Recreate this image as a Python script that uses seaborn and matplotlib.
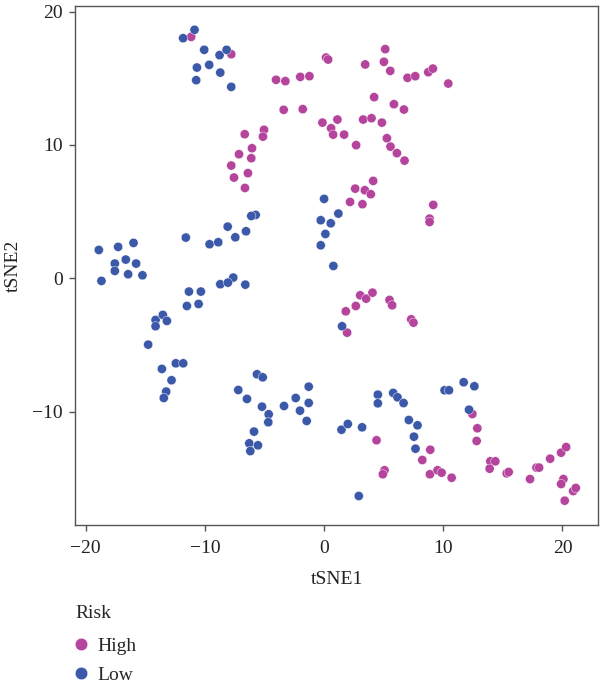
import numpy as np
import pandas as pd
import seaborn as sns
import matplotlib.pyplot as plt

# t-SNE coordinates
high_x = [-11.15, -7.79, -4.03, -3.25, -3.39, -2.0, -1.23, -1.79,
          -6.66, -5.04, -5.13, -7.14, -6.05, -6.11, -7.79, -6.39, -7.56, -6.64,
          0.17, 0.34, 5.13, 5.02, 5.55, 3.45, 7.0, 7.65, 8.74, 9.13, 10.42,
          4.2, 5.86, 6.7, -0.14, 1.12, 0.59, 0.76, 1.68, 3.28, 3.98, 4.85,
          2.69, 5.27, 5.57, 6.11, 6.75, 4.12, 2.61, 3.42, 3.92, 2.18, 3.22,
          9.16, 8.85, 8.85,
          3.03, 3.53, 4.06, 2.66, 1.82, 5.49, 5.71, 7.31, 7.5, 1.93,
          12.44, 12.86, 12.8, 4.4, 5.07, 4.93, 8.91, 8.24, 8.88, 9.52, 9.86, 10.7,
          13.95, 14.37, 13.89, 15.32, 15.49, 17.28, 17.82, 18.04, 18.97, 19.89,
          20.31, 20.08, 19.89, 20.19, 20.9, 21.12]
high_y = [18.1, 16.8, 14.88, 14.78, 12.63, 15.1, 15.15, 12.68,
          10.8, 11.13, 10.62, 9.3, 9.75, 9.0, 8.45, 7.88, 7.55, 6.77,
          16.55, 16.4, 17.18, 16.23, 15.55, 16.03, 15.03, 15.15, 15.45, 15.72, 14.6,
          13.58, 13.05, 12.65, 11.67, 11.9, 11.25, 10.77, 10.77, 11.9, 12.0, 11.67,
          9.98, 10.5, 9.87, 9.38, 8.82, 7.3, 6.72, 6.6, 6.3, 5.72, 5.55,
          5.5, 4.47, 4.22,
          -1.28, -1.53, -1.08, -2.08, -2.48, -1.63, -2.03, -3.08, -3.33, -4.08,
          -10.18, -11.25, -12.2, -12.15, -14.4, -14.7, -12.86, -13.63, -14.7, -14.4, -14.58, -14.96,
          -13.73, -13.73, -14.28, -14.63, -14.53, -15.06, -14.2, -14.2, -13.53, -13.08,
          -12.66, -15.06, -15.43, -16.68, -15.96, -15.73]

low_x = [-11.83, -10.87, -10.06, -10.67, -10.73, -9.64, -8.77, -8.18, -8.71, -7.79,
         -5.74, -6.11, -8.09, -7.45, -6.55, -11.6, -9.61, -8.88,
         -18.9, -17.28, -15.99, -17.56, -16.64, -15.77, -17.56, -16.44, -15.24, -18.68,
         -7.62, -8.71, -8.07, -6.61, -11.34, -10.34, -11.51, -10.53,
         -14.14, -13.53, -13.19, -14.14, -14.76, -13.61, -12.44, -11.82, -12.8, -13.25, -13.45,
         -5.63, -5.15, -7.2, -6.47, -5.21, -4.65, -4.68, -5.88, -6.28, -5.55, -6.19,
         -3.36, -2.38, -2.02, -1.29, -1.29, -1.46,
         0.0, 1.2, -0.28, 0.56, 0.11, -0.28, 0.78, 1.51,
         4.51, 4.51, 5.8, 6.16, 6.67, 7.11, 7.84, 7.54, 7.67, 1.46, 1.99, 3.19, 2.91,
         10.11, 10.48, 11.71, 12.61, 12.16]
low_y = [18.0, 18.63, 17.13, 15.8, 14.85, 16.0, 16.73, 17.13, 15.42, 14.35,
         4.75, 4.67, 3.87, 3.07, 3.52, 3.05, 2.55, 2.7,
         2.12, 2.35, 2.65, 1.1, 1.4, 1.1, 0.55, 0.3, 0.22, -0.2,
         0.05, -0.45, -0.33, -0.48, -1.0, -1.0, -2.08, -1.93,
         -3.13, -2.75, -3.2, -3.6, -4.98, -6.8, -6.38, -6.38, -7.65, -8.5, -8.98,
         -7.2, -7.43, -8.38, -9.05, -9.63, -10.2, -10.8, -11.5, -12.38, -12.53, -12.96,
         -9.58, -8.98, -9.93, -8.13, -9.35, -10.7,
         5.95, 4.85, 4.35, 4.12, 3.32, 2.47, 0.92, -3.6,
         -8.73, -9.38, -8.6, -8.93, -9.36, -10.63, -11.03, -11.88, -12.78, -11.36, -10.93, -11.18, -16.33,
         -8.4, -8.4, -7.8, -8.1, -9.86]

df = pd.concat([
    pd.DataFrame({'tSNE1': high_x, 'tSNE2': high_y, 'Risk': 'High'}),
    pd.DataFrame({'tSNE1': low_x, 'tSNE2': low_y, 'Risk': 'Low'}),
], ignore_index=True)

palette = {'High': '#B4449C', 'Low': '#3B59A8'}

sns.set_style('white')
plt.rcParams['font.family'] = ['Liberation Serif', 'DejaVu Serif']
fs = 14

fig = plt.figure(figsize=(6, 6.88), dpi=100)
ax = fig.add_axes([0.125, 0.237, 0.872, 0.754])

sns.scatterplot(data=df, x='tSNE1', y='tSNE2', hue='Risk', hue_order=['High', 'Low'],
                palette=palette, s=44, edgecolor='white', linewidth=0.3, ax=ax)

ax.set_xlim(-20.9, 23.0)
ax.set_ylim(-18.5, 20.4)
ax.set_xticks([-20, -10, 0, 10, 20])
ax.set_yticks([-10, 0, 10, 20])
ax.tick_params(axis='both', direction='out', length=4, width=1, color='#555555',
               labelsize=fs, labelcolor='#222222', bottom=True, left=True)
ax.tick_params(axis='x', pad=7)
ax.tick_params(axis='y', pad=5)
for side in ax.spines.values():
    side.set_color('#555555')
    side.set_linewidth(1)
ax.set_xlabel('tSNE1', fontsize=fs, color='#222222', labelpad=10)
ax.set_ylabel('tSNE2', fontsize=fs, color='#222222', labelpad=7)

sns.move_legend(ax, loc='upper left', bbox_to_anchor=(-0.032, -0.1215), frameon=False,
                fontsize=fs, title_fontsize=fs, markerscale=1.35,
                handlelength=0.5, handletextpad=0.6, labelspacing=0.6)
leg = ax.get_legend()
leg._legend_box.align = 'left'
leg._legend_box.sep = 0.6 * fs + 2.2

fig.savefig('out.png', dpi=100)
